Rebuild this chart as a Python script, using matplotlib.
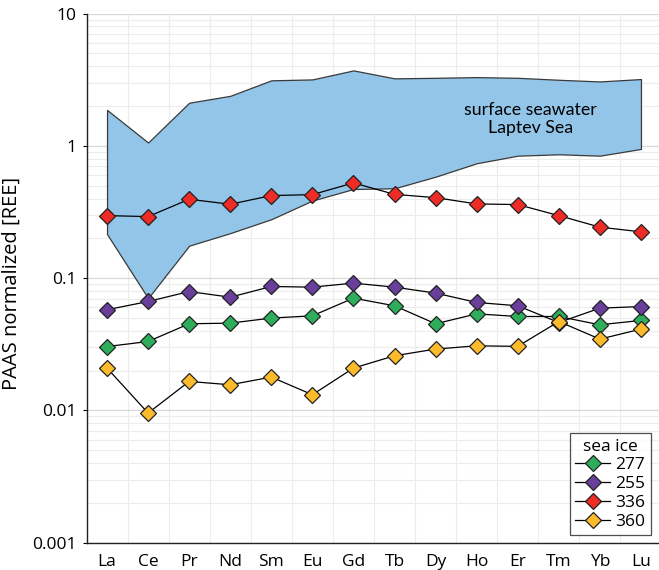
import matplotlib
matplotlib.use("Agg")
import matplotlib.pyplot as plt
from matplotlib.ticker import FixedLocator, NullFormatter, LogLocator
import numpy as np

plt.rcParams['font.family'] = ['Open Sans', 'DejaVu Sans']

elements = ["La", "Ce", "Pr", "Nd", "Sm", "Eu", "Gd", "Tb", "Dy", "Ho", "Er", "Tm", "Yb", "Lu"]

band_upper = [1.87, 1.06, 2.12, 2.39, 3.13, 3.18, 3.72, 3.24, 3.27, 3.31, 3.27, 3.16, 3.07, 3.20]
band_lower = [0.215, 0.0706, 0.176, 0.219, 0.279, 0.386, 0.472, 0.478, 0.585, 0.739, 0.843, 0.864, 0.843, 0.948]

ice_277 = [0.0304, 0.0332, 0.0452, 0.0457, 0.0499, 0.0519, 0.0706, 0.0618, 0.0452, 0.0537, 0.0513, 0.0513, 0.0444, 0.0479]
ice_255 = [0.0577, 0.0666, 0.0792, 0.0718, 0.0865, 0.0855, 0.0917, 0.0855, 0.0771, 0.0655, 0.0618, 0.0462, 0.0593, 0.0610]
ice_336 = [0.297, 0.292, 0.395, 0.362, 0.421, 0.428, 0.525, 0.430, 0.406, 0.364, 0.360, 0.297, 0.243, 0.224]
ice_360 = [0.0209, 0.00955, 0.01656, 0.01563, 0.01787, 0.01314, 0.0209, 0.0259, 0.0291, 0.0308, 0.0305, 0.0470, 0.0346, 0.0412]

series_labels = ["277", "255", "336", "360"]
series_colors = ["#2EAE5B", "#6A3F9C", "#EE2B24", "#FDBB2C"]

fig = plt.figure(figsize=(6.59, 5.70), dpi=100)
ax = fig.add_axes([86.5/659, (570-542.7)/570, 575/659, (542.7-13.6)/570])

x = np.arange(len(elements))
ax.fill_between(x, band_lower, band_upper, facecolor="#93C5E8", edgecolor="#3a3a3a",
                linewidth=0.9, zorder=2)

for vals, lab, col in zip([ice_277, ice_255, ice_336, ice_360], series_labels, series_colors):
    ax.plot(x, vals, color="black", linewidth=0.9, marker="D", markersize=8.5,
            markerfacecolor=col, markeredgecolor="#222222", markeredgewidth=0.9,
            label=lab, zorder=3)

ax.text(10.3, 1.6, "surface seawater\nLaptev Sea", ha="center", va="center",
        fontsize=12.8, family=['Lato', 'DejaVu Sans'], linespacing=1.1, zorder=4)

ax.set_yscale("log")
ax.set_ylim(0.001, 10)
ax.set_xlim(-0.5, len(elements) - 0.5)

ax.set_xticks(x)
ax.set_xticklabels(elements, fontsize=12.5)
ax.xaxis.set_minor_locator(FixedLocator(np.arange(-0.5, len(elements), 1.0)))
ax.tick_params(axis="x", which="both", length=0, pad=8)

ax.yaxis.set_major_locator(FixedLocator([0.001, 0.01, 0.1, 1, 10]))
ax.set_yticklabels(["0.001", "0.01", "0.1", "1", "10"], fontsize=12.5)
ax.yaxis.set_minor_locator(LogLocator(base=10, subs=np.arange(2, 10)))
ax.yaxis.set_minor_formatter(NullFormatter())
ax.tick_params(axis="y", which="major", length=3, width=0.8, pad=4)
ax.tick_params(axis="y", which="minor", length=0)

ax.grid(True, which="major", axis="y", color="#d9d9d9", linewidth=0.9, zorder=0)
ax.grid(True, which="minor", axis="y", color="#ececec", linewidth=0.8, zorder=0)
ax.grid(True, which="minor", axis="x", color="#ececec", linewidth=0.8, zorder=0)
ax.set_axisbelow(True)

for s in ["top", "right"]:
    ax.spines[s].set_visible(False)
for s in ["left", "bottom"]:
    ax.spines[s].set_color("#222222")
    ax.spines[s].set_linewidth(1.0)

ax.set_ylabel("PAAS normalized [REE]", fontsize=14.5)
ax.yaxis.set_label_coords(-0.112, 0.49)

leg = ax.legend(title="sea ice", loc="lower right", bbox_to_anchor=(0.99, 0.005),
                fontsize=12.5, title_fontsize=12.5, frameon=True, fancybox=False,
                borderpad=0.3, labelspacing=0.15, handlelength=2.0, handletextpad=0.3,
                borderaxespad=0.3)
leg.get_frame().set_edgecolor("#222222")
leg.get_frame().set_linewidth(0.9)

fig.savefig("out.png", dpi=100)
